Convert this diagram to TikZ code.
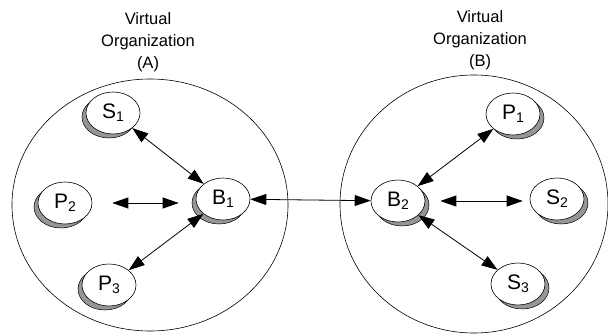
\documentclass[tikz,border=0pt]{standalone}
\usepackage{fontspec}
\setmainfont{Liberation Sans}
\usetikzlibrary{shapes.geometric,shadows,arrows.meta}
\definecolor{shade}{RGB}{150,150,150}
\newcommand{\vsub}[1]{\raisebox{-0.28ex}{\fontsize{14}{14}\selectfont #1}}

\begin{document}
\begin{tikzpicture}[x=1pt, y=-1pt,
  vo/.style={ellipse, draw, line width=0.6pt, inner sep=0pt},
  peer/.style={ellipse, draw, line width=0.6pt, fill=white, minimum width=54pt, minimum height=42pt, inner sep=0pt, font=\fontsize{21}{24}\selectfont},
  lpeer/.style={peer, general shadow={fill=shade, draw=black, line width=0.5pt, shadow xshift=-4pt, shadow yshift=-4pt}},
  rpeer/.style={peer, general shadow={fill=shade, draw=black, line width=0.5pt, shadow xshift=4pt, shadow yshift=-4pt}},
  link/.style={<->, >={Triangle[length=16pt,width=11pt]}, line width=0.8pt},
  title/.style={align=center, font=\fontsize{16.5}{22}\selectfont}]
  \useasboundingbox (0,0) rectangle (608,334);

  % Titles
  \node[title] (titleA) at (148,42) {Virtual\\Organization\\(A)};
  \node[title] (titleB) at (480,40) {Virtual\\Organization\\(B)};

  % Virtual organizations
  \node[vo, minimum width=276pt, minimum height=252pt] (voA) at (150,205) {};
  \node[vo, minimum width=268pt, minimum height=258pt] (voB) at (474,204) {};

  % Members of (A)
  \foreach \name/\label/\x/\y in {S1/S\vsub{1}/113/113, P2/P\vsub{2}/65/203, B1/B\vsub{1}/223/199, P3/P\vsub{3}/109/285}
    \node[lpeer] (\name) at (\x,\y) {\label};

  % Members of (B)
  \foreach \name/\label/\x/\y in {B2/B\vsub{2}/398/201, P1/P\vsub{1}/513/114, S2/S\vsub{2}/557/199, S3/S\vsub{3}/518/284}
    \node[rpeer] (\name) at (\x,\y) {\label};

  % Links
  \draw[link] (B1) -- (B2);
  \draw[link] (S1) -- (B1);
  \draw[link, shorten <=20pt, shorten >=17pt] (P2.east) -- (B1.west |- P2.east);
  \draw[link] (P3) -- (B1);
  \draw[link] (B2) -- (P1);
  \draw[link, shorten <=15pt, shorten >=7pt] (B2.east) -- (S2.west |- B2.east);
  \draw[link] (B2) -- (S3);

\end{tikzpicture}
\end{document}
